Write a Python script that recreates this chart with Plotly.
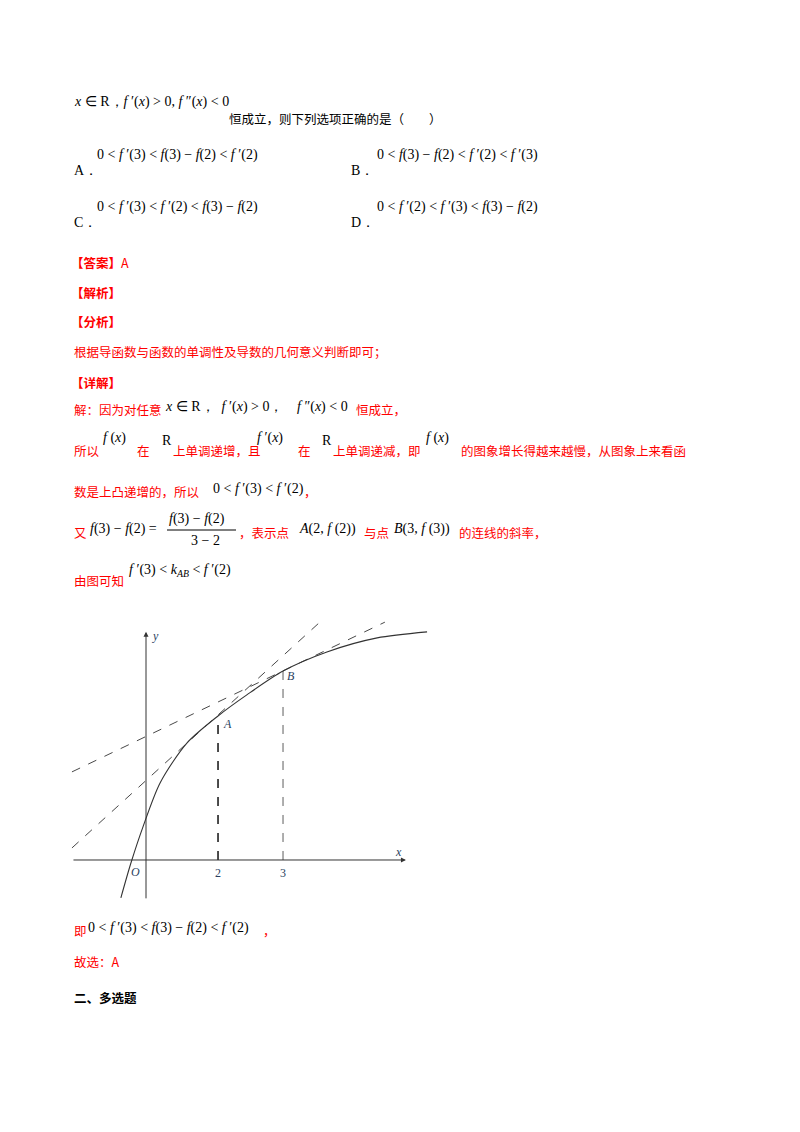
import plotly.graph_objects as go

# curve f(x) (units: 1 = 33.5 px, origin at O)
curve_x = [-0.75, -0.45, -0.09, 0.42, 1.22, 2.15, 3.01, 4.09, 5.40, 6.90, 8.39]
curve_y = [-1.13, -0.09, 0.99, 2.30, 3.49, 4.30, 4.93, 5.64, 6.21, 6.63, 6.81]
# tangent lines at A and B
tanA_x = [-2.21, 5.19]
tanA_y = [0.36, 7.10]
tanB_x = [-2.21, 7.13]
tanB_y = [2.63, 7.10]
# points A, B
pt_x = [2.15, 4.09]
pt_y = [4.30, 5.64]
tick_pos = [2.15, 4.09]
tick_text = ["2", "3"]

CJK = "Noto Sans CJK SC"
SERIF = "Liberation Serif"
RED = "#ff0000"
OFF = 8  # page body margin in the browser

fig = go.Figure()
fig.add_trace(go.Scatter(x=curve_x, y=curve_y, mode="lines", line=dict(color="#333", width=1.1, shape="spline", smoothing=0.8)))
fig.add_trace(go.Scatter(x=tanA_x, y=tanA_y, mode="lines", line=dict(color="#333", width=0.9, dash="dash")))
fig.add_trace(go.Scatter(x=tanB_x, y=tanB_y, mode="lines", line=dict(color="#333", width=0.9, dash="dash")))
fig.add_trace(go.Scatter(x=[pt_x[0], pt_x[0]], y=[0, pt_y[0]], mode="lines", line=dict(color="#111", width=1.5, dash="dash")))
fig.add_trace(go.Scatter(x=[pt_x[1], pt_x[1]], y=[0, pt_y[1]], mode="lines", line=dict(color="#333", width=0.8, dash="dash")))

ann = []
# axes with arrows
ann.append(dict(x=7.76, y=0, ax=-2.21, ay=0, xref="x", yref="y", axref="x", ayref="y", text="",
                showarrow=True, arrowhead=2, arrowwidth=1, arrowcolor="#333"))
ann.append(dict(x=0, y=6.81, ax=0, ay=-1.19, xref="x", yref="y", axref="x", ayref="y", text="",
                showarrow=True, arrowhead=2, arrowwidth=1, arrowcolor="#333"))
ann.append(dict(x=0.27, y=6.7, xref="x", yref="y", text="<i>y</i>", showarrow=False, font=dict(family=SERIF, size=12)))
ann.append(dict(x=7.55, y=0.25, xref="x", yref="y", text="<i>x</i>", showarrow=False, font=dict(family=SERIF, size=12)))
ann.append(dict(x=-0.3, y=-0.36, xref="x", yref="y", text="<i>O</i>", showarrow=False, font=dict(family=SERIF, size=12)))
for xv, t in zip(tick_pos, tick_text):
    ann.append(dict(x=xv, y=-0.4, xref="x", yref="y", text=t, showarrow=False, font=dict(family=SERIF, size=12)))
ann.append(dict(x=pt_x[0] + 0.27, y=pt_y[0] - 0.25, xref="x", yref="y", text="<i>A</i>", showarrow=False, font=dict(family=SERIF, size=12)))
ann.append(dict(x=pt_x[1] + 0.25, y=pt_y[1] - 0.15, xref="x", yref="y", text="<i>B</i>", showarrow=False, font=dict(family=SERIF, size=12)))


def txt(px, py, s, color="black", family=CJK, size=14):
    px, py = px - OFF, py - OFF
    ann.append(dict(x=px / 800, y=1 - py / 1132, xref="paper", yref="paper", xanchor="left", yanchor="middle",
                    text=s, showarrow=False, borderpad=0, font=dict(family=family, size=size, color=color)))


C = 12.5
txt(73, 102, "<i>x</i> ∈ R，<i>f</i> ′(<i>x</i>) > 0, <i>f</i> ″(<i>x</i>) < 0", family=SERIF, size=14)
txt(228, 118, "恒成立，则下列选项正确的是（　　）", size=C)
txt(73, 170, "A．", family=SERIF)
txt(96, 155, "0 < <i>f</i> ′(3) < <i>f</i>(3) − <i>f</i>(2) < <i>f</i> ′(2)", family=SERIF)
txt(350, 170, "B．", family=SERIF)
txt(376, 155, "0 < <i>f</i>(3) − <i>f</i>(2) < <i>f</i> ′(2) < <i>f</i> ′(3)", family=SERIF)
txt(73, 222, "C．", family=SERIF)
txt(96, 207, "0 < <i>f</i> ′(3) < <i>f</i> ′(2) < <i>f</i>(3) − <i>f</i>(2)", family=SERIF)
txt(350, 222, "D．", family=SERIF)
txt(376, 207, "0 < <i>f</i> ′(2) < <i>f</i> ′(3) < <i>f</i>(3) − <i>f</i>(2)", family=SERIF)

txt(70, 262, "<b>【答案】</b>A", color=RED, size=C)
txt(70, 292, "<b>【解析】</b>", color=RED, size=C)
txt(70, 322, "<b>【分析】</b>", color=RED, size=C)
txt(73, 352, "根据导函数与函数的单调性及导数的几何意义判断即可；", color=RED, size=C)
txt(70, 382, "<b>【详解】</b>", color=RED, size=C)
txt(73, 409, "解：因为对任意", color=RED, size=C)
txt(164, 407, "<i>x</i> ∈ R，  <i>f</i> ′(<i>x</i>) > 0，", color="black", family=SERIF)
txt(296, 407, "<i>f</i> ″(<i>x</i>) < 0", color="black", family=SERIF)
txt(355, 409, "恒成立，", color=RED, size=C)

txt(73, 450, "所以", color=RED, size=C)
txt(102, 438, "<i>f</i> (<i>x</i>)", family=SERIF)
txt(136, 450, "在", color=RED, size=C)
txt(161, 440, "R", family=SERIF)
txt(172, 450, "上单调递增，且", color=RED, size=C)
txt(256, 438, "<i>f</i> ′(<i>x</i>)", family=SERIF)
txt(297, 450, "在", color=RED, size=C)
txt(321, 440, "R", family=SERIF)
txt(332, 450, "上单调递减，即", color=RED, size=C)
txt(425, 438, "<i>f</i> (<i>x</i>)", family=SERIF)
txt(460, 450, "的图象增长得越来越慢，从图象上来看函", color=RED, size=C)

txt(73, 492, "数是上凸递增的，所以", color=RED, size=C)
txt(212, 489, "0 < <i>f</i> ′(3) < <i>f</i> ′(2)", family=SERIF)
txt(303, 492, "，", color=RED, size=C)

txt(73, 532, "又", color=RED, size=C)
txt(89, 529, "<i>f</i>(3) − <i>f</i>(2) =", family=SERIF)
txt(168, 519, "<i>f</i>(3) − <i>f</i>(2)", family=SERIF)
txt(190, 540, "3 − 2", family=SERIF)
txt(238, 532, "，表示点", color=RED, size=C)
txt(298, 529, "<i>A</i>(2, <i>f</i> (2))", family=SERIF)
txt(363, 532, "与点", color=RED, size=C)
txt(393, 529, "<i>B</i>(3, <i>f</i> (3))", family=SERIF)
txt(458, 532, "的连线的斜率，", color=RED, size=C)

txt(73, 580, "由图可知", color=RED, size=C)
txt(128, 570, "<i>f</i> ′(3) < <i>k</i><sub><i>AB</i></sub> < <i>f</i> ′(2)", family=SERIF)

txt(73, 930, "即", color=RED, size=C)
txt(87, 928, "0 < <i>f</i> ′(3) < <i>f</i>(3) − <i>f</i>(2) < <i>f</i> ′(2)", family=SERIF)
txt(262, 930, "，", color=RED, size=C)
txt(73, 961, "故选：A", color=RED, size=C)
txt(73, 997, "<b>二、多选题</b>", size=C)

fig.update_layout(
    width=800, height=1132, margin=dict(l=0, r=0, t=0, b=0),
    paper_bgcolor="white", plot_bgcolor="white", showlegend=False,
    xaxis=dict(domain=[52 / 800, 432 / 800], range=[-2.567, 8.776], visible=False, fixedrange=True),
    yaxis=dict(domain=[1 - 902 / 1132, 1 - 602 / 1132], range=[-1.493, 7.463], visible=False, fixedrange=True),
    annotations=ann,
)
# fraction bar
fig.add_shape(type="line", xref="paper", yref="paper", x0=(167 - OFF) / 800, x1=(236 - OFF) / 800,
              y0=1 - (530 - OFF) / 1132, y1=1 - (530 - OFF) / 1132, line=dict(color="black", width=1))
fig.write_html("out.html")
